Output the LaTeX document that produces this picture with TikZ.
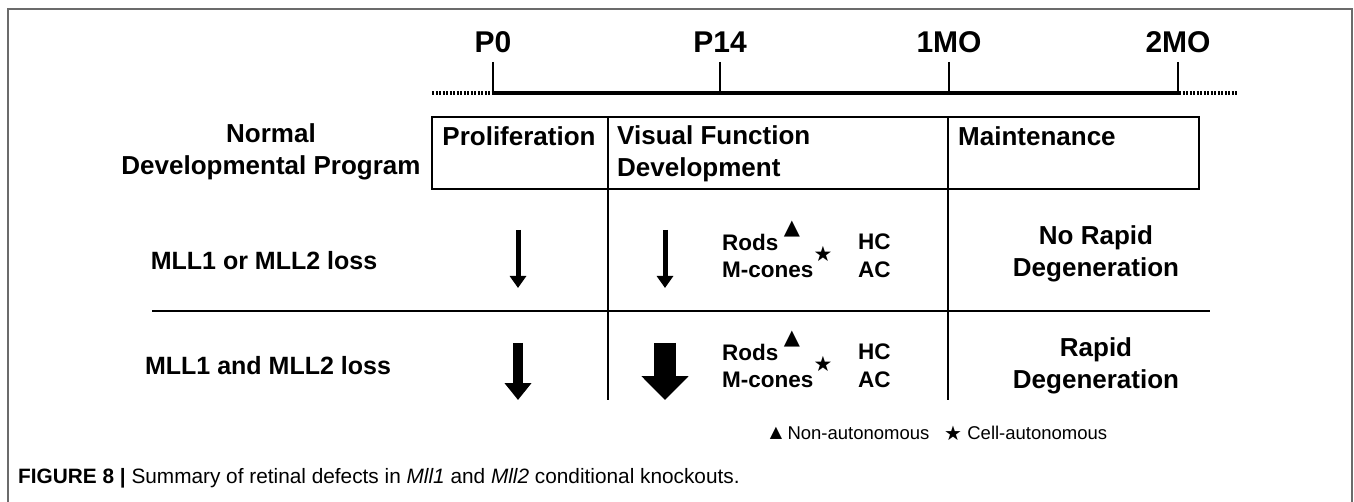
\documentclass[tikz,border=0pt]{standalone}
\usepackage{fontspec}
\setmainfont{Liberation Sans}
\newfontfamily\symfont{DejaVu Sans}
\usetikzlibrary{positioning,arrows.meta}
\tikzset{frameline/.style={draw=black!58, line width=1.6pt}}
\tikzset{grid/.style={draw, line width=1.5pt}}
\tikzset{ticklbl/.style={font=\bfseries\fontsize{30}{34}\selectfont, inner sep=0pt}}
\tikzset{hdr/.style={font=\bfseries\fontsize{26}{32}\selectfont, inner sep=0pt, align=center}}
\tikzset{rowlbl/.style={font=\bfseries\fontsize{25}{30}\selectfont, inner sep=0pt}}
\tikzset{cell/.style={font=\bfseries\fontsize{22.5}{28}\selectfont, inner sep=0pt, anchor=west}}
\tikzset{sym/.style={font=\symfont\fontsize{#1}{#1}\selectfont, inner sep=0pt}}
\tikzset{legend/.style={font=\fontsize{18.5}{21}\selectfont, inner sep=0pt, anchor=west}}
\tikzset{dots/.style={line width=3.5pt, dash pattern=on 2pt off 1.5pt}}
\tikzset{downarr/.style args={#1/#2/#3}{draw, line width=#1, -{Triangle[length=#3, width=#2]}}}
\begin{document}
\begin{tikzpicture}[x=1pt, y=-1pt]
  \useasboundingbox (0,0) rectangle (1354,502);
  \draw[frameline] (8,502) -- (8,9) -- (1352,9) -- (1352,502);
  % time line
  \coordinate (tl0) at (432,93);
  \coordinate (tlA) at (493,93);
  \coordinate (tlD) at (1179,93);
  \coordinate (tl1) at (1238,93);
  \draw[line width=4pt] (tlA) -- (tlD);
  \draw[dots] (tl0) -- (tlA);
  \draw[dots] (tlD) -- (tl1);
  \foreach \x/\t/\n in {493/P0/p0, 720/P14/p14, 949/1MO/mo1, 1178/2MO/mo2} {
    \node[ticklbl] (\n) at (\x,42) {\t};
    \draw[grid] (\x,62) -- (\x,93);
  }
  % table
  \draw[grid] (432,117) rectangle (1199,189);
  \draw[grid] (608,117) -- (608,400);
  \draw[grid] (948,117) -- (948,400);
  \draw[grid] (152,311) -- (1210,311);
  \node[hdr] (normal) at (271,152) {Normal\\Developmental Program};
  \node[hdr] (prolif) at (519,136) {Proliferation};
  \node[hdr, anchor=north west, align=left] (visual) at (617,125) {Visual Function\\Development};
  \node[hdr, anchor=west] (maint) at (958,136) {Maintenance};
  \node[rowlbl] (single) at (264,261) {MLL1 or MLL2 loss};
  \node[rowlbl] (double) at (268,366) {MLL1 and MLL2 loss};
  \node[hdr] (norapid) at (1096,254) {No Rapid\\Degeneration};
  \node[hdr] (rapid) at (1096,366) {Rapid\\Degeneration};
  % cell types
  \foreach \y/\r in {0/a, 110/b} {
    \node[cell] (rods\r) at (722,242+\y) {Rods};
    \node[cell] (mcones\r) at (722,270+\y) {M-cones};
    \node[cell] (hc\r) at (858,242+\y) {HC};
    \node[cell] (ac\r) at (858,270+\y) {AC};
    \node[sym=21] (tri\r) at (792,229+\y) {▲};
    \node[sym=21] (star\r) at (823,254+\y) {★};
  }
  % arrows
  \draw[downarr=5pt/16pt/12pt] (518,230) -- (518,288);
  \draw[downarr=5pt/16pt/12pt] (665,230) -- (665,288);
  \draw[downarr=10pt/26pt/17pt] (518,343) -- (518,400);
  \draw[downarr=22pt/46pt/24pt] (665,343) -- (665,400);
  % legend and caption
  \node[sym=16] (nonautosym) at (776,433) {▲};
  \node[legend, right=5pt of nonautosym] (nonauto) {Non-autonomous};
  \node[sym=20] (cellautosym) at (953,433) {★};
  \node[legend, right=5pt of cellautosym] (cellauto) {Cell-autonomous};
  \node[legend, font=\fontsize{20.8}{23}\selectfont] (caption) at (18,478)
    {\textbf{FIGURE 8 |} Summary of retinal defects in \textit{Mll1} and \textit{Mll2} conditional knockouts.};
\end{tikzpicture}
\end{document}
